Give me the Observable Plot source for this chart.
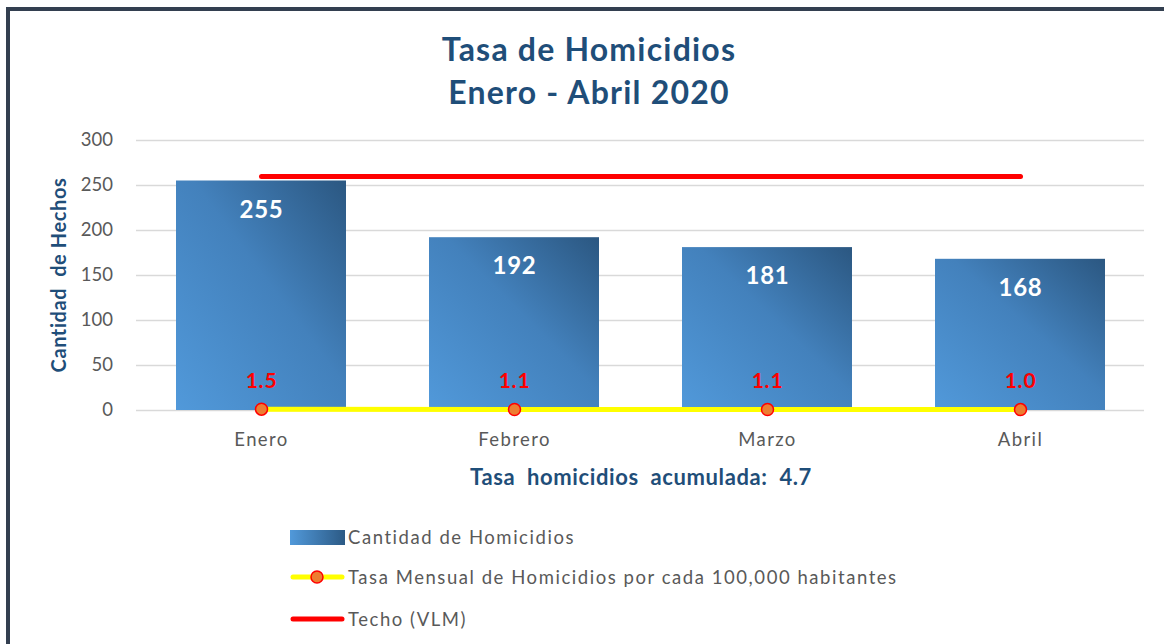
<!DOCTYPE html>
<html>
<head>
<meta charset="utf-8">
<script src="https://cdn.jsdelivr.net/npm/d3@7"></script>
<script src="https://cdn.jsdelivr.net/npm/@observablehq/plot@0.6"></script>
<style>
  html, body { margin: 0; padding: 0; background: #fff; width: 1164px; height: 644px; overflow: hidden; font-family: Lato, "Open Sans", sans-serif; }
  #frame { position: absolute; left: 6px; top: 7px; width: 1200px; height: 700px; border-left: 4px solid #333F50; border-top: 4px solid #333F50; box-sizing: border-box; }
  .title { position: absolute; left: 589px; top: 27px; transform: translateX(-50%); text-align: center; color: #1F4E79; font-weight: bold; font-size: 32px; line-height: 43px; letter-spacing: 1.2px; white-space: nowrap; }
  #chart { position: absolute; left: 0; top: 120px; }
  #ylabel { position: absolute; left: 58px; top: 275px; transform: translate(-50%, -50%) rotate(-90deg); white-space: nowrap; color: #1F4E79; font-weight: bold; font-size: 20px; letter-spacing: 0.6px; }
  #acum { position: absolute; left: 641px; top: 476px; transform: translate(-50%, -50%); color: #1F4E79; font-weight: bold; font-size: 22px; white-space: pre; letter-spacing: 0.6px; word-spacing: 0px; }
  .leg { position: absolute; left: 290px; display: flex; align-items: center; color: #595959; font-size: 18.5px; white-space: nowrap; letter-spacing: 1.55px; }
  .leg svg { margin-right: 3px; }
  #chart g[aria-label="x-axis tick label"] text { letter-spacing: 1.4px; }
  #chart g[aria-label="text"] text { letter-spacing: 0.8px; }
</style>
</head>
<body>
<div id="frame"></div>
<div class="title">Tasa de Homicidios<br>Enero - Abril 2020</div>
<div id="chart"></div>
<div id="ylabel">Cantidad&nbsp; de Hechos</div>
<div id="acum"></div>
<div class="leg" style="top:525px">
  <svg width="55" height="24"><defs><linearGradient id="lg1" x1="0" x2="1" y1="0" y2="0"><stop offset="0" stop-color="#5199DA"/><stop offset="1" stop-color="#2C5A85"/></linearGradient></defs><rect x="0" y="5" width="55" height="15" fill="url(#lg1)"/></svg>
  <span id="leg1"></span>
</div>
<div class="leg" style="top:565px">
  <svg width="55" height="24"><line x1="3" x2="52" y1="12" y2="12" stroke="#FFFF00" stroke-width="5" stroke-linecap="round"/><circle cx="27" cy="12" r="6" fill="#ED7D31" stroke="#FF0000" stroke-width="1.5"/></svg>
  <span id="leg2"></span>
</div>
<div class="leg" style="top:607px">
  <svg width="55" height="24"><line x1="3" x2="52" y1="12" y2="12" stroke="#FF0000" stroke-width="5" stroke-linecap="round"/></svg>
  <span id="leg3"></span>
</div>
<script>
const months = ["Enero", "Febrero", "Marzo", "Abril"];
const homicidios = [255, 192, 181, 168];
const tasa = [1.5, 1.1, 1.1, 1.0];
const techo = [260, 260, 260, 260];
const yTicks = [0, 50, 100, 150, 200, 250, 300];
const tasaAcumulada = 4.7;
const seriesNames = ["Cantidad de Homicidios", "Tasa Mensual de Homicidios por cada 100,000 habitantes", "Techo (VLM)"];

const data = months.map((m, i) => ({month: m, hom: homicidios[i], tasa: tasa[i], techo: techo[i]}));

document.getElementById("leg1").textContent = seriesNames[0];
document.getElementById("leg2").textContent = seriesNames[1];
document.getElementById("leg3").textContent = seriesNames[2];
document.getElementById("acum").textContent = "Tasa  homicidios  acumulada:  " + tasaAcumulada.toFixed(1);

const gradientDefs = () => {
  const ns = "http://www.w3.org/2000/svg";
  const defs = document.createElementNS(ns, "defs");
  defs.innerHTML = `<linearGradient id="barGrad" x1="0" y1="1" x2="1" y2="0">
    <stop offset="0" stop-color="#5199DA"/>
    <stop offset="0.55" stop-color="#4381BC"/>
    <stop offset="1" stop-color="#2B5781"/>
  </linearGradient>`;
  return defs;
};

const plot = Plot.plot({
  width: 1164,
  height: 330,
  marginTop: 20,
  marginBottom: 40,
  marginLeft: 134.5,
  marginRight: 17.5,
  style: {fontFamily: "Lato, 'Open Sans', sans-serif", background: "transparent"},
  x: {domain: months, paddingInner: 0.33, paddingOuter: 0.165, label: null},
  y: {domain: [0, 300], label: null},
  marks: [
    gradientDefs,
    Plot.ruleY(yTicks, {stroke: "#D9D9D9", strokeWidth: 1.5, insetLeft: 1.5, insetRight: 2.5}),
    Plot.axisY({ticks: yTicks, tickSize: 0, tickPadding: 22, fontSize: 18.5, color: "#595959", label: null}),
    Plot.axisX({tickSize: 0, tickPadding: 22, fontSize: 18.5, color: "#595959", label: null}),
    Plot.barY(data, {x: "month", y: "hom", fill: "url(#barGrad)"}),
    Plot.lineY(data, {x: "month", y: "techo", stroke: "#FF0000", strokeWidth: 5, strokeLinecap: "round"}),
    Plot.lineY(data, {x: "month", y: "tasa", stroke: "#FFFF00", strokeWidth: 5}),
    Plot.dot(data, {x: "month", y: "tasa", r: 6, fill: "#ED7D31", stroke: "#FF0000", strokeWidth: 1.5}),
    Plot.text(data, {x: "month", y: "hom", text: d => String(d.hom), dy: 29, fill: "white", fontWeight: "bold", fontSize: 24}),
    Plot.text(data, {x: "month", y: "tasa", text: d => d.tasa.toFixed(1), dy: -28, fill: "#FF0000", fontWeight: "bold", fontSize: 21})
  ]
});
document.getElementById("chart").appendChild(plot);
</script>
</body>
</html>
